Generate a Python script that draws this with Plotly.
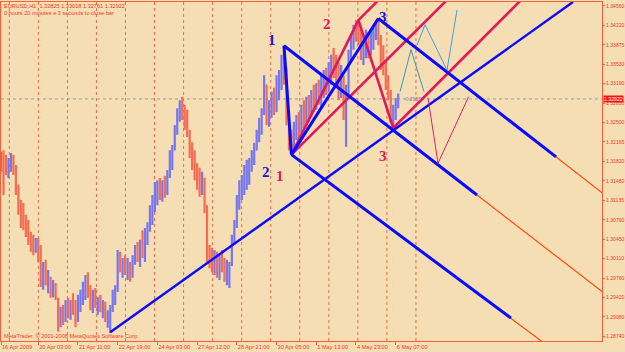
import plotly.graph_objects as go

# ---------------- data (EURUSD H1) ----------------
bar_index = list(range(0, 322, 2))

high = [1.3199, 1.3202, 1.3194, 1.3188, 1.3197, 1.3194, 1.3176, 1.3141, 1.3114, 1.3109,
        1.3088, 1.3079, 1.3058, 1.3053, 1.3047, 1.3047, 1.3035, 1.3005, 1.3009, 1.2991,
        1.2979, 1.2973, 1.2968, 1.2942, 1.2926, 1.2929, 1.2938, 1.2942, 1.2938, 1.2950,
        1.2938, 1.2947, 1.2956, 1.2970, 1.2982, 1.2987, 1.2964, 1.2956, 1.2959, 1.2943,
        1.2947, 1.2938, 1.2935, 1.2920, 1.2929, 1.2956, 1.2964, 1.3026, 1.3023, 1.3012,
        1.3017, 1.3012, 1.3005, 1.3017, 1.3035, 1.3040, 1.3044, 1.3061, 1.3065, 1.3075,
        1.3105, 1.3123, 1.3146, 1.3149, 1.3153, 1.3149, 1.3157, 1.3167, 1.3202, 1.3211,
        1.3246, 1.3276, 1.3290, 1.3296, 1.3282, 1.3273, 1.3238, 1.3216, 1.3202, 1.3179,
        1.3171, 1.3164, 1.3153, 1.3105, 1.3035, 1.3030, 1.3026, 1.3023, 1.3017, 1.3026,
        1.3012, 1.3009, 1.3005, 1.3053, 1.3079, 1.3123, 1.3149, 1.3158, 1.3176, 1.3185,
        1.3188, 1.3202, 1.3215, 1.3238, 1.3259, 1.3276, 1.3334, 1.3317, 1.3290, 1.3305,
        1.3312, 1.3334, 1.3343, 1.3370, 1.3386, 1.3347, 1.3273, 1.3238, 1.3252, 1.3264,
        1.3269, 1.3282, 1.3290, 1.3296, 1.3299, 1.3308, 1.3317, 1.3320, 1.3326, 1.3334,
        1.3343, 1.3347, 1.3357, 1.3370, 1.3382, 1.3370, 1.3357, 1.3352, 1.3334, 1.3317,
        1.3379, 1.3405, 1.3423, 1.3431, 1.3433, 1.3414, 1.3405, 1.3414, 1.3410, 1.3414,
        1.3423, 1.3431, 1.3435, 1.3405, 1.3387, 1.3361, 1.3334, 1.3308, 1.3282, 1.3294,
        1.3302]

low = [1.3164, 1.3123, 1.3158, 1.3153, 1.3164, 1.3158, 1.3123, 1.3088, 1.3065, 1.3061,
       1.3049, 1.3035, 1.3023, 1.3017, 1.3021, 1.3005, 1.2961, 1.2956, 1.2964, 1.2950,
       1.2942, 1.2943, 1.2938, 1.2882, 1.2890, 1.2894, 1.2899, 1.2906, 1.2903, 1.2912,
       1.2890, 1.2899, 1.2917, 1.2929, 1.2938, 1.2942, 1.2920, 1.2915, 1.2924, 1.2912,
       1.2917, 1.2906, 1.2899, 1.2889, 1.2880, 1.2917, 1.2929, 1.2952, 1.2987, 1.2977,
       1.2982, 1.2973, 1.2970, 1.2977, 1.3000, 1.3005, 1.2996, 1.3012, 1.3005, 1.3035,
       1.3058, 1.3070, 1.3093, 1.3105, 1.3114, 1.3111, 1.3118, 1.3123, 1.3153, 1.3167,
       1.3202, 1.3229, 1.3252, 1.3255, 1.3238, 1.3225, 1.3188, 1.3167, 1.3149, 1.3132,
       1.3120, 1.3123, 1.3091, 1.3005, 1.2994, 1.2987, 1.2982, 1.2977, 1.2973, 1.2987,
       1.2970, 1.2964, 1.2959, 1.2998, 1.3035, 1.3065, 1.3097, 1.3114, 1.3123, 1.3132,
       1.3141, 1.3164, 1.3176, 1.3202, 1.3216, 1.3229, 1.3264, 1.3246, 1.3243, 1.3259,
       1.3264, 1.3269, 1.3290, 1.3308, 1.3317, 1.3246, 1.3202, 1.3194, 1.3206, 1.3220,
       1.3223, 1.3232, 1.3241, 1.3246, 1.3252, 1.3260, 1.3269, 1.3273, 1.3282, 1.3276,
       1.3294, 1.3299, 1.3305, 1.3317, 1.3329, 1.3313, 1.3290, 1.3294, 1.3255, 1.3208,
       1.3299, 1.3361, 1.3379, 1.3393, 1.3387, 1.3361, 1.3352, 1.3364, 1.3364, 1.3370,
       1.3379, 1.3396, 1.3387, 1.3343, 1.3334, 1.3308, 1.3290, 1.3250, 1.3241, 1.3255,
       1.3276]

close = [1.3185, 1.3176, 1.3167, 1.3181, 1.3188, 1.3167, 1.3132, 1.3105, 1.3097, 1.3075,
         1.3061, 1.3044, 1.3044, 1.3030, 1.3035, 1.3012, 1.2982, 1.2991, 1.2970, 1.2973,
         1.2952, 1.2964, 1.2942, 1.2894, 1.2912, 1.2903, 1.2929, 1.2920, 1.2933, 1.2920,
         1.2903, 1.2938, 1.2947, 1.2959, 1.2964, 1.2952, 1.2938, 1.2947, 1.2929, 1.2938,
         1.2920, 1.2929, 1.2906, 1.2912, 1.2920, 1.2947, 1.2956, 1.3012, 1.2994, 1.3005,
         1.2987, 1.3000, 1.2982, 1.3009, 1.3026, 1.3012, 1.3035, 1.3026, 1.3053, 1.3061,
         1.3097, 1.3114, 1.3132, 1.3135, 1.3123, 1.3141, 1.3132, 1.3158, 1.3185, 1.3202,
         1.3238, 1.3264, 1.3282, 1.3264, 1.3255, 1.3234, 1.3202, 1.3176, 1.3167, 1.3158,
         1.3141, 1.3153, 1.3105, 1.3026, 1.3017, 1.3005, 1.3012, 1.2991, 1.3005, 1.3000,
         1.2982, 1.2994, 1.3000, 1.3044, 1.3070, 1.3114, 1.3132, 1.3141, 1.3149, 1.3167,
         1.3176, 1.3188, 1.3202, 1.3229, 1.3246, 1.3269, 1.3317, 1.3259, 1.3282, 1.3290,
         1.3273, 1.3322, 1.3329, 1.3361, 1.3343, 1.3259, 1.3220, 1.3220, 1.3241, 1.3255,
         1.3238, 1.3273, 1.3255, 1.3282, 1.3273, 1.3299, 1.3276, 1.3308, 1.3299, 1.3317,
         1.3326, 1.3308, 1.3343, 1.3361, 1.3352, 1.3334, 1.3308, 1.3326, 1.3273, 1.3299,
         1.3370, 1.3396, 1.3414, 1.3405, 1.3396, 1.3379, 1.3387, 1.3396, 1.3379, 1.3400,
         1.3414, 1.3423, 1.3396, 1.3361, 1.3347, 1.3317, 1.3299, 1.3259, 1.3264, 1.3282,
         1.3292]

first_open = 1.3180
open_ = [first_open] + close[:-1]

last_price = 1.32922

x_tick_bars = [0, 30, 62, 94, 126, 158, 190, 222, 254, 286, 318]
x_tick_text = ["16 Apr 2009", "20 Apr 03:00", "21 Apr 11:00", "22 Apr 19:00",
               "24 Apr 03:00", "27 Apr 12:00", "28 Apr 21:00", "30 Apr 05:00",
               "1 May 13:00", "4 May 23:00", "6 May 07:00"]

y_tick_text = ["1.34560", "1.34220", "1.33875", "1.33530", "1.33190", "1.32850",
               "1.32500", "1.32165", "1.31820", "1.31480", "1.31135", "1.30790",
               "1.30450", "1.30110", "1.29760", "1.29420", "1.29080", "1.28740"]
y_tick_top = 1.34560
y_tick_step = 0.0034235

# blue analysis lines: start pivot -> end (bar, price)
blue_thick_bars = [[228, 234], [234, 304], [304, 447.2], [228, 383.5], [234, 410.9]]
blue_thick_prices = [[1.3386, 1.3194], [1.3194, 1.3434], [1.3434, 1.3190],
                     [1.3386, 1.3123], [1.3194, 1.2906]]
trend_bars = [88, 460.8]
trend_prices = [1.2881, 1.3463]

# orange-red extensions (rays)
ray_bars = [[304, 490], [228, 490], [234, 440]]
ray_prices = [[1.3434, 1.3117], [1.3386, 1.2943], [1.3194, 1.2858]]

# crimson lines
pink_bars = [[234, 288], [288, 316], [288, 305.8], [234, 360.9], [316, 420.6]]
pink_prices = [[1.3194, 1.3431], [1.3431, 1.3241], [1.3431, 1.3470],
               [1.3194, 1.3470], [1.3241, 1.3470]]

# projection zigzags
teal_bars = [321.5, 330.3, 340.8]
teal_prices = [1.3305, 1.3379, 1.3305]
sky_bars = [335.2, 341.6, 359.3, 367.4]
sky_prices = [1.3387, 1.3423, 1.3343, 1.3449]
rose_bars = [344.0, 352.1, 376.7]
rose_prices = [1.3294, 1.3179, 1.3296]

# wave labels
wave_text = ["1", "2", "3", "3", "2", "1"]
wave_bars = [218.3, 262.6, 307.8, 307.8, 213.5, 224.8]
wave_prices = [1.3396, 1.3424, 1.3437, 1.3192, 1.3164, 1.3157]
wave_colors = ["#1414e6", "#e0185a", "#1414e6", "#e0185a", "#1414e6", "#e0185a"]

# ---------------- styling ----------------
BG = "#f5deb3"
RED = "#f03a2a"
FRAME = "#f4603c"
BLUE = "#0a0aff"
PINK = "#e2195b"
ORANGE = "#ff4a10"
FONT = "Liberation Sans, Arial"
FS = 5.6

fig = go.Figure()

fig.add_trace(go.Ohlc(
    x=bar_index, open=open_, high=high, low=low, close=close,
    increasing=dict(line=dict(color="#7676f0", width=2.2)),
    decreasing=dict(line=dict(color="#f56c52", width=2.2)),
    tickwidth=0.2, hoverinfo="skip", showlegend=False))

def seg(xs, ys, color, width):
    fig.add_trace(go.Scatter(x=xs, y=ys, mode="lines",
                             line=dict(color=color, width=width),
                             hoverinfo="skip", showlegend=False))

for xs, ys in zip(ray_bars, ray_prices):
    seg(xs, ys, ORANGE, 1.2)
for xs, ys in zip(pink_bars, pink_prices):
    seg(xs, ys, PINK, 2.6)
seg(trend_bars, trend_prices, BLUE, 2.4)
for xs, ys in zip(blue_thick_bars, blue_thick_prices):
    seg(xs, ys, BLUE, 3)
seg(teal_bars, teal_prices, "#3a98ae", 1)
seg(sky_bars, sky_prices, "#3fa2dc", 1)
seg(rose_bars, rose_prices, "#e0245e", 1)

shapes = []
for k in range(15):
    gx = 6.7 + 23.4 * k
    shapes.append(dict(type="line", xref="x", yref="paper", x0=gx, x1=gx, y0=0, y1=1,
                       line=dict(color="#f26a4e", width=1, dash="3px,3px"), layer="below"))
shapes.append(dict(type="line", xref="paper", yref="y", x0=0, x1=1,
                   y0=last_price, y1=last_price,
                   line=dict(color="#8aa4a4", width=1, dash="dot"), layer="below"))

annotations = []
for t, bx, py, c in zip(wave_text, wave_bars, wave_prices, wave_colors):
    annotations.append(dict(x=bx, y=py, xref="x", yref="y", text="<b>%s</b>" % t,
                            showarrow=False, font=dict(family="Liberation Serif, DejaVu Serif",
                                                        size=15, color=c)))
annotations.append(dict(x=0.004, y=1, xref="paper", yref="paper", xanchor="left", yanchor="top",
                        yshift=0, showarrow=False, align="left", borderpad=0,
                        text="EURUSD,H1  1.32825 1.33018 1.32761 1.32922<br>0 hours 20 minutes e 3 seconds to close bar",
                        font=dict(family=FONT, size=FS, color=RED)))
annotations.append(dict(x=0.004, y=0, xref="paper", yref="paper", xanchor="left", yanchor="bottom",
                        yshift=1, showarrow=False, borderpad=0,
                        text="MetaTrader, © 2001-2008 MetaQuotes Software Corp.",
                        font=dict(family=FONT, size=FS, color=RED)))
annotations.append(dict(x=1, y=last_price, xref="paper", yref="y", xanchor="left", yanchor="middle",
                        xshift=1, showarrow=False, text="1.32922", bgcolor="#ff1010",
                        borderpad=0, font=dict(family=FONT, size=5.2, color="white")))
annotations.append(dict(x=323, y=last_price, xref="x", yref="y", xanchor="left", yanchor="middle",
                        showarrow=False, text="-0.2955",
                        font=dict(family=FONT, size=5, color="#9a7a9a")))

fig.update_layout(
    width=625, height=352,
    margin=dict(l=1, r=23, t=2, b=11, pad=0, autoexpand=False),
    paper_bgcolor=BG, plot_bgcolor=BG,
    showlegend=False,
    shapes=shapes, annotations=annotations,
    xaxis=dict(range=[0, 484.2], tickvals=x_tick_bars, ticktext=x_tick_text, tickangle=0,
               ticks="outside", ticklen=3, tickcolor=FRAME, ticklabelposition="outside right",
               tickfont=dict(family=FONT, size=FS, color=RED), automargin=False,
               showgrid=False, zeroline=False, showline=True, mirror=True,
               linecolor=FRAME, linewidth=1, rangeslider=dict(visible=False), fixedrange=True),
    yaxis=dict(range=[1.28657, 1.34630], side="right",
               tickvals=[y_tick_top - k * y_tick_step for k in range(len(y_tick_text))],
               ticktext=y_tick_text, ticks="outside", ticklen=2, tickcolor=FRAME,
               tickfont=dict(family=FONT, size=5.1, color=RED), automargin=False,
               showgrid=False, zeroline=False, showline=True, mirror=True,
               linecolor=FRAME, linewidth=1, fixedrange=True),
)

fig.write_html("out.html")
